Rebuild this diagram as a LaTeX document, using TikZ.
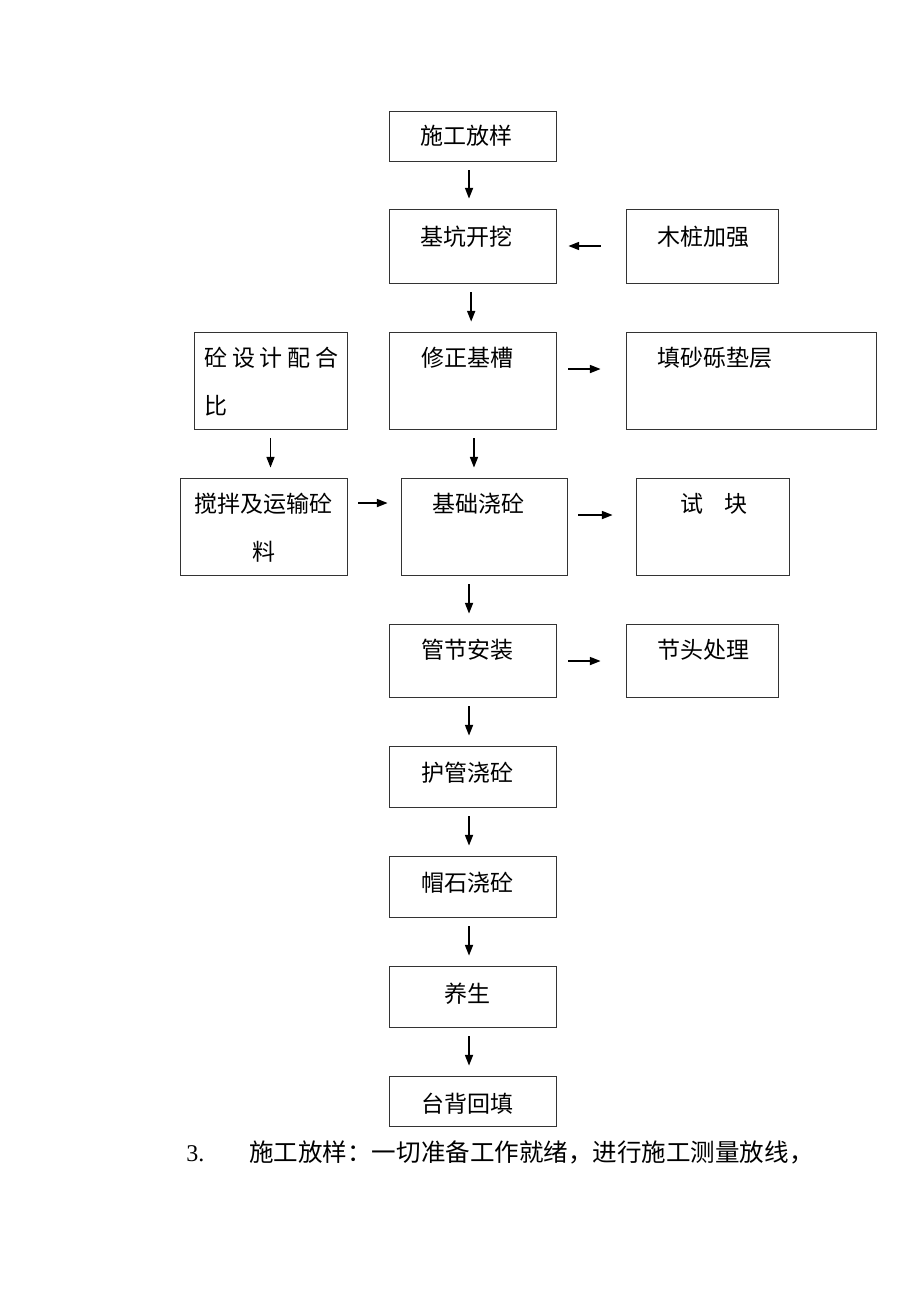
\documentclass[tikz,border=0pt]{standalone}
\usepackage{fontspec}
\setmainfont{Liberation Serif}
\newfontfamily\cjk{Noto Sans CJK SC}
\usetikzlibrary{arrows.meta,fit}
\begin{document}
\begin{tikzpicture}[x=0.75pt,y=-0.75pt,
  box/.style={draw=black!80, line width=0.6pt, inner sep=0pt},
  txt/.style={font=\cjk\fontsize{17.25}{20}\selectfont, inner sep=0pt, anchor=base},
  arr/.style={line width=1.1pt, -{Triangle[length=8pt,width=6pt]}},
  vsh/.style={shorten <=6.75pt, shorten >=7.5pt}]
\useasboundingbox[fill=white] (0,0) rectangle (920,1302);
% boxes
\node[box, fit={(389,111) (556,161)}] (b1) {};
\node[box, fit={(389,209) (556,283)}] (b2) {};
\node[box, fit={(626,209) (778,283)}] (b3) {};
\node[box, fit={(194,332) (347,429)}] (b4) {};
\node[box, fit={(389,332) (556,429)}] (b5) {};
\node[box, fit={(626,332) (876,429)}] (b6) {};
\node[box, fit={(180,478) (347,575)}] (b7) {};
\node[box, fit={(401,478) (567,575)}] (b8) {};
\node[box, fit={(636,478) (789,575)}] (b9) {};
\node[box, fit={(389,624) (556,697)}] (b10) {};
\node[box, fit={(626,624) (778,697)}] (b11) {};
\node[box, fit={(389,746) (556,807)}] (b12) {};
\node[box, fit={(389,856) (556,917)}] (b13) {};
\node[box, fit={(389,966) (556,1027)}] (b14) {};
\node[box, fit={(389,1076) (556,1126)}] (b15) {};
% texts
\node[txt] (t1) at (466.5,145) {施工放样};
\node[txt] (t2) at (466.5,245) {基坑开挖};
\node[txt] (t3) at (703,245) {木桩加强};
\node[txt, anchor=base west] (t4a) at (204,366) {\hbox to 100.5pt{砼\hfil 设\hfil 计\hfil 配\hfil 合}};
\node[txt, anchor=base west] (t4b) at (204,414) {比};
\node[txt] (t5) at (467,366) {修正基槽};
\node[txt] (t6) at (715,366) {填砂砾垫层};
\node[txt] (t7a) at (263.5,512) {搅拌及运输砼};
\node[txt] (t7b) at (264,560) {料};
\node[txt] (t8) at (478,512) {基础浇砼};
\node[txt] (t9) at (714,512) {\hbox to 51pt{试\hfil 块}};
\node[txt] (t10) at (467,658) {管节安装};
\node[txt] (t11) at (703,658) {节头处理};
\node[txt] (t12) at (467,781) {护管浇砼};
\node[txt] (t13) at (467,891) {帽石浇砼};
\node[txt] (t14) at (467,1002) {养生};
\node[txt] (t15) at (467,1112) {台背回填};
\node[font=\fontsize{18}{20}\selectfont, inner sep=0pt, anchor=base west] (n3) at (186,1161) {3.};
\node[font=\cjk\fontsize{18.4}{20}\selectfont, inner sep=0pt, anchor=base west] (para) at (249,1161) {施工放样：一切准备工作就绪，进行施工测量放线，};
% vertical arrows
\draw[arr, vsh] ([xshift=-2.6pt]b1.south) -- ([xshift=-2.6pt]b2.north);
\draw[arr, vsh] ([xshift=-1pt]b2.south) -- ([xshift=-1pt]b5.north);
\draw[arr, vsh] ([xshift=1.1pt]b5.south) -- ([xshift=1.1pt]b5.south |- b8.north);
\draw[arr, vsh] (b4.south) -- (b4.south |- b7.north);
\draw[arr, vsh] ([xshift=-2.6pt]b10.north |- b8.south) -- ([xshift=-2.6pt]b10.north);
\draw[arr, vsh] ([xshift=-2.6pt]b10.south) -- ([xshift=-2.6pt]b12.north);
\draw[arr, vsh] ([xshift=-2.6pt]b12.south) -- ([xshift=-2.6pt]b13.north);
\draw[arr, vsh] ([xshift=-2.6pt]b13.south) -- ([xshift=-2.6pt]b14.north);
\draw[arr, vsh] ([xshift=-2.6pt]b14.south) -- ([xshift=-2.6pt]b15.north);
% horizontal arrows
\draw[arr, shorten <=18.75pt, shorten >=9pt] (b3.west) -- (b2.east);
\draw[arr, shorten <=9pt, shorten >=18.75pt] ([yshift=8.6pt]b5.east) -- ([yshift=8.6pt]b6.west);
\draw[arr, shorten <=8.25pt, shorten >=9.75pt] ([yshift=17.6pt]b7.east) -- ([yshift=17.6pt]b8.west);
\draw[arr, shorten <=8.25pt, shorten >=17.25pt] ([yshift=8.6pt]b8.east) -- ([yshift=8.6pt]b9.west);
\draw[arr, shorten <=9pt, shorten >=18.75pt] ([yshift=-0.4pt]b10.east) -- ([yshift=-0.4pt]b11.west);
\end{tikzpicture}
\end{document}
